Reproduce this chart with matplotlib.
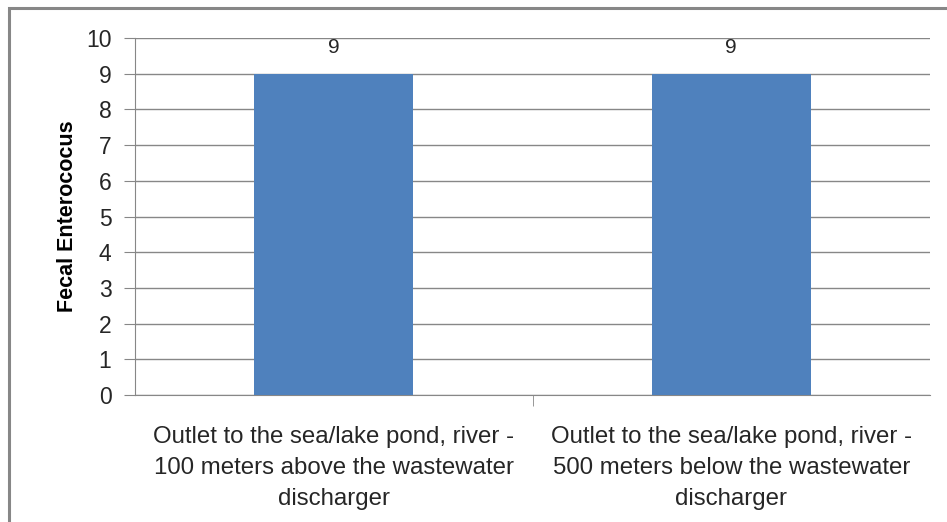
import matplotlib.pyplot as plt
from matplotlib.patches import Rectangle

# data
categories = [
    "Outlet to the sea/lake pond, river -\n100 meters above the wastewater\ndischarger",
    "Outlet to the sea/lake pond, river -\n500 meters below the wastewater\ndischarger",
]
values = [9, 9]
y_ticks = list(range(0, 11))

W, H = 947, 522
plt.rcParams['font.family'] = ['Liberation Sans', 'DejaVu Sans']

fig = plt.figure(figsize=(W / 100, H / 100), dpi=100)

# outer chart frame (runs off the right and bottom edges)
fig.patches.append(Rectangle((9 / W, -0.1), 1.2, (H - 8) / H + 0.1,
                             transform=fig.transFigure, fill=False,
                             edgecolor='#878787', linewidth=2.2))

ax = fig.add_axes([135 / W, 1 - 395 / H, (930 - 135) / W, (395 - 38) / H])
x = range(len(values))
ax.bar(x, values, width=0.4, color='#4f81bd', zorder=3)
for i, v in zip(x, values):
    ax.annotate(str(v), (i, v), xytext=(0, 17), textcoords='offset pixels',
                ha='center', va='bottom', fontsize=15, color='#262626')

ax.set_xlim(-0.5, 1.5)
ax.set_ylim(0, 10)
ax.set_yticks(y_ticks)
ax.tick_params(axis='y', labelsize=16.5, length=8, color='#878787', pad=9,
               labelcolor='#262626')
ax.yaxis.grid(True, color='#878787', linewidth=1, zorder=0)

ax.set_xticks([0.5], minor=True)
ax.set_xticks(list(x))
ax.set_xticklabels(categories, fontsize=17.3, linespacing=1.55, color='#262626')
ax.tick_params(axis='x', which='major', length=0, pad=22)
ax.tick_params(axis='x', which='minor', length=8, color='#878787')

for side in ['top', 'right']:
    ax.spines[side].set_visible(False)
for side in ['left', 'bottom']:
    ax.spines[side].set_color('#878787')

ax.set_ylabel('Fecal Enterococus', fontsize=15.5, fontweight='bold', labelpad=6)

fig.savefig('out.png', dpi=100)
